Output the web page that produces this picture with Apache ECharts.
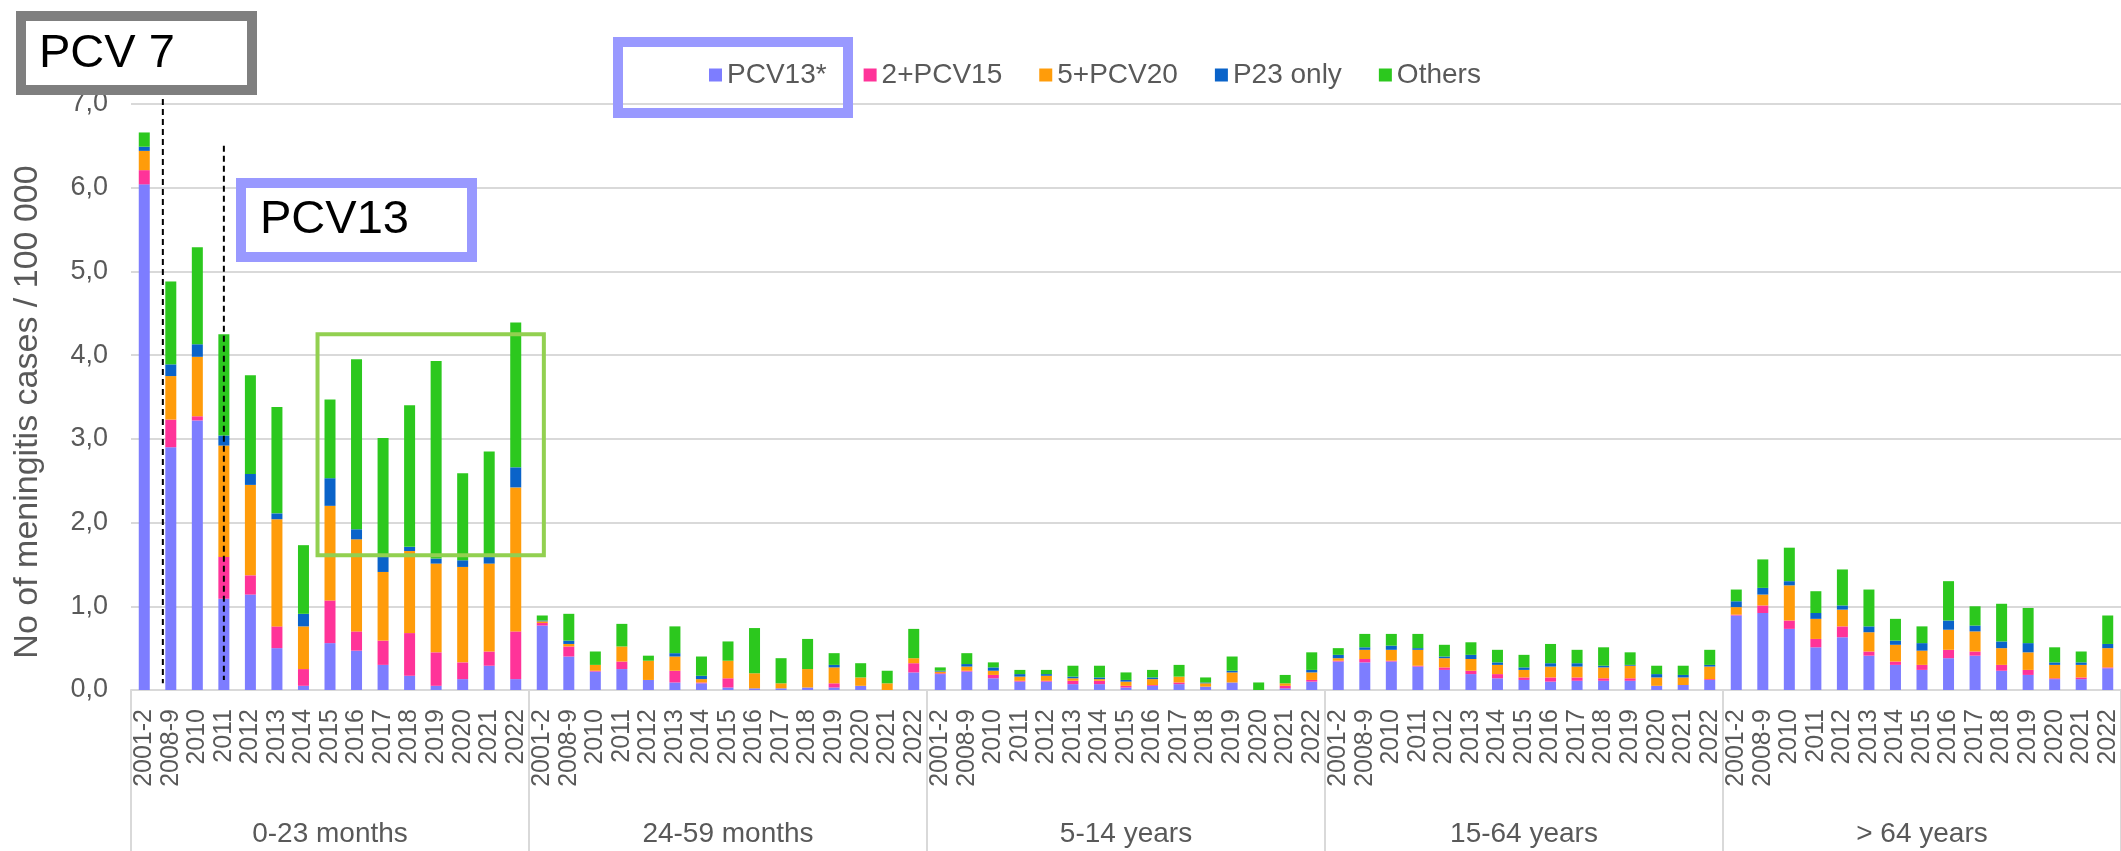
<!DOCTYPE html>
<html>
<head>
<meta charset="utf-8">
<title>Meningitis cases by serotype group</title>
<script src="https://cdn.jsdelivr.net/npm/echarts@6/dist/echarts.min.js"></script>
<style>
  html, body { margin: 0; padding: 0; background: #fff; }
  #chart { width: 2121px; height: 851px; }
</style>
</head>
<body>
<div id="chart"></div>
<script>
// season labels, repeated once per age group
const years = ['2001-2', '2008-9', '2010', '2011', '2012', '2013', '2014', '2015',
  '2016', '2017', '2018', '2019', '2020', '2021', '2022'];
const ageGroups = ['0-23 months', '24-59 months', '5-14 years', '15-64 years', '> 64 years'];
const seriesNames = ['PCV13*', '2+PCV15', '5+PCV20', 'P23 only', 'Others'];
const yTicks = [0, 1, 2, 3, 4, 5, 6, 7];

// incidence per 100 000, one block of 15 seasons per age group
const pcv13 = [
  6.04, 2.90, 3.22, 1.09, 1.14, 0.50, 0.05, 0.56, 0.47, 0.30, 0.17, 0.05, 0.13, 0.29, 0.13,
  0.77, 0.40, 0.22, 0.25, 0.12, 0.09, 0.08, 0.03, 0.02, 0.02, 0.03, 0.03, 0.05, 0.00, 0.21,
  0.19, 0.22, 0.14, 0.10, 0.10, 0.07, 0.07, 0.03, 0.05, 0.07, 0.04, 0.09, 0.00, 0.02, 0.10,
  0.34, 0.33, 0.34, 0.28, 0.24, 0.19, 0.14, 0.12, 0.10, 0.11, 0.11, 0.11, 0.05, 0.06, 0.12,
  0.89, 0.92, 0.73, 0.51, 0.63, 0.41, 0.30, 0.24, 0.38, 0.41, 0.23, 0.18, 0.13, 0.13, 0.26
];
const pcv15 = [
  0.17, 0.33, 0.05, 0.50, 0.23, 0.26, 0.20, 0.51, 0.23, 0.29, 0.51, 0.40, 0.20, 0.17, 0.57,
  0.03, 0.12, 0.01, 0.09, 0.00, 0.14, 0.01, 0.11, 0.00, 0.00, 0.00, 0.05, 0.00, 0.00, 0.11,
  0.01, 0.01, 0.04, 0.01, 0.01, 0.04, 0.04, 0.02, 0.01, 0.02, 0.00, 0.00, 0.00, 0.03, 0.02,
  0.01, 0.04, 0.01, 0.01, 0.03, 0.04, 0.05, 0.03, 0.05, 0.04, 0.03, 0.03, 0.00, 0.00, 0.01,
  0.01, 0.09, 0.10, 0.10, 0.13, 0.05, 0.04, 0.06, 0.10, 0.05, 0.07, 0.06, 0.01, 0.02, 0.01
];
const pcv20 = [
  0.23, 0.52, 0.71, 1.33, 1.08, 1.28, 0.51, 1.13, 1.10, 0.82, 0.98, 1.06, 1.14, 1.05, 1.72,
  0.02, 0.03, 0.07, 0.18, 0.23, 0.17, 0.04, 0.21, 0.18, 0.06, 0.22, 0.19, 0.10, 0.08, 0.06,
  0.02, 0.05, 0.05, 0.05, 0.06, 0.03, 0.02, 0.05, 0.07, 0.07, 0.04, 0.12, 0.00, 0.03, 0.09,
  0.03, 0.11, 0.13, 0.19, 0.11, 0.14, 0.11, 0.09, 0.13, 0.13, 0.13, 0.15, 0.10, 0.09, 0.15,
  0.09, 0.13, 0.42, 0.24, 0.20, 0.23, 0.20, 0.17, 0.24, 0.24, 0.20, 0.21, 0.16, 0.15, 0.23
];
const p23 = [
  0.05, 0.14, 0.15, 0.12, 0.13, 0.07, 0.15, 0.33, 0.12, 0.20, 0.05, 0.06, 0.08, 0.09, 0.24,
  0.01, 0.04, 0.00, 0.00, 0.00, 0.04, 0.04, 0.00, 0.00, 0.00, 0.00, 0.03, 0.00, 0.00, 0.00,
  0.01, 0.03, 0.04, 0.03, 0.02, 0.02, 0.02, 0.02, 0.02, 0.00, 0.01, 0.02, 0.00, 0.00, 0.03,
  0.04, 0.03, 0.05, 0.02, 0.02, 0.05, 0.03, 0.03, 0.04, 0.04, 0.02, 0.01, 0.04, 0.03, 0.02,
  0.07, 0.08, 0.05, 0.07, 0.05, 0.07, 0.05, 0.09, 0.11, 0.07, 0.08, 0.11, 0.03, 0.03, 0.05
];
const others = [
  0.17, 0.99, 1.16, 1.21, 1.18, 1.27, 0.82, 0.94, 2.03, 1.40, 1.69, 2.36, 1.04, 1.25, 1.73,
  0.06, 0.32, 0.16, 0.27, 0.06, 0.32, 0.23, 0.23, 0.54, 0.30, 0.36, 0.14, 0.17, 0.15, 0.35,
  0.04, 0.13, 0.06, 0.05, 0.05, 0.13, 0.14, 0.09, 0.09, 0.14, 0.06, 0.17, 0.09, 0.10, 0.21,
  0.08, 0.16, 0.14, 0.17, 0.14, 0.15, 0.15, 0.15, 0.23, 0.16, 0.22, 0.15, 0.10, 0.11, 0.18,
  0.14, 0.34, 0.40, 0.26, 0.43, 0.44, 0.26, 0.20, 0.47, 0.23, 0.45, 0.42, 0.18, 0.13, 0.34
];

const colors = ['#7d7dff', '#ff3399', '#ff9c0a', '#0a63c9', '#2cc81e'];
const font = '"Liberation Sans", Arial, sans-serif';
const textGrey = '#595959';
const lineGrey = '#d9d9d9';

const categories = ageGroups.flatMap(() => years);
const seriesValues = [pcv13, pcv15, pcv20, p23, others];

const chart = echarts.init(document.getElementById('chart'));

chart.setOption({
  animation: false,
  color: colors,
  textStyle: { fontFamily: font },
  grid: { left: 131, right: -5, top: 104, bottom: 161 },
  legend: {
    data: seriesNames,
    left: 704,
    top: 56,
    icon: 'rect',
    itemWidth: 13,
    itemHeight: 13,
    itemGap: 37,
    textStyle: { fontSize: 28, color: textGrey, fontFamily: font, padding: [0, 0, 0, 0] },
  },
  xAxis: [
    {
      type: 'category',
      data: categories,
      axisLine: { lineStyle: { color: lineGrey, width: 2 } },
      axisTick: { show: false },
      axisLabel: {
        interval: 0,
        rotate: 90,
        margin: 19,
        fontSize: 25,
        color: textGrey,
      },
    },
    {
      type: 'category',
      data: ageGroups,
      position: 'bottom',
      axisLine: { show: false },
      axisTick: { show: true, interval: 0, length: 161, lineStyle: { color: lineGrey, width: 2 } },
      axisLabel: { interval: 0, margin: 130, fontSize: 28, color: textGrey },
    },
  ],
  yAxis: {
    type: 'value',
    min: yTicks[0],
    max: yTicks[yTicks.length - 1],
    interval: 1,
    name: 'No of meningitis cases / 100 000',
    nameLocation: 'middle',
    nameGap: 86,
    nameTextStyle: { fontSize: 34, color: textGrey, padding: [0, 30, 0, 0] },
    axisLine: { show: false },
    axisTick: { show: false },
    splitLine: { lineStyle: { color: lineGrey, width: 2 } },
    axisLabel: {
      fontSize: 27,
      color: textGrey,
      margin: 23,
      formatter: (v) => v.toFixed(1).replace('.', ','),
    },
  },
  series: seriesNames.map((name, i) => ({
    name,
    type: 'bar',
    stack: 'total',
    xAxisIndex: 0,
    barWidth: 11,
    data: seriesValues[i],
  })),
});

// annotations: vaccine introduction markers and highlight boxes
function xAt(index) {
  const i0 = Math.floor(index);
  const p0 = chart.convertToPixel({ xAxisIndex: 0 }, i0);
  const p1 = chart.convertToPixel({ xAxisIndex: 0 }, i0 + 1);
  return p0 + (p1 - p0) * (index - i0);
}
function yAt(value) {
  return chart.convertToPixel({ yAxisIndex: 0 }, value);
}

const dash = { stroke: '#000', lineWidth: 2, lineDash: [6, 4] };
const boxLeft = xAt(6.53);
const boxRight = xAt(15.06);
const boxTop = yAt(4.25);
const boxBottom = yAt(1.61);

chart.setOption({
  graphic: [
    { type: 'line', z: 100, shape: { x1: xAt(0.7), y1: yAt(7.06), x2: xAt(0.7), y2: yAt(0.08) }, style: dash },
    { type: 'line', z: 100, shape: { x1: xAt(3), y1: yAt(6.5), x2: xAt(3), y2: yAt(0.12) }, style: dash },
    {
      type: 'rect', z: 100,
      shape: { x: boxLeft, y: boxTop, width: boxRight - boxLeft, height: boxBottom - boxTop },
      style: { fill: null, stroke: '#92d050', lineWidth: 4 },
    },
    {
      type: 'rect', z: 110,
      shape: { x: 21, y: 16, width: 231, height: 74 },
      style: { fill: '#fff', stroke: '#7f7f7f', lineWidth: 10 },
    },
    {
      type: 'text', z: 111, x: 39, y: 54,
      style: { text: 'PCV 7', font: '47px ' + font, fill: '#000', verticalAlign: 'middle' },
    },
    {
      type: 'rect', z: 110,
      shape: { x: 241, y: 183, width: 231, height: 74 },
      style: { fill: '#fff', stroke: '#9999ff', lineWidth: 10 },
    },
    {
      type: 'text', z: 111, x: 260, y: 220,
      style: { text: 'PCV13', font: '47px ' + font, fill: '#000', verticalAlign: 'middle' },
    },
    {
      type: 'rect', z: 110,
      shape: { x: 618, y: 42, width: 230, height: 71 },
      style: { fill: null, stroke: '#9999ff', lineWidth: 10 },
    },
  ],
});
</script>
</body>
</html>
